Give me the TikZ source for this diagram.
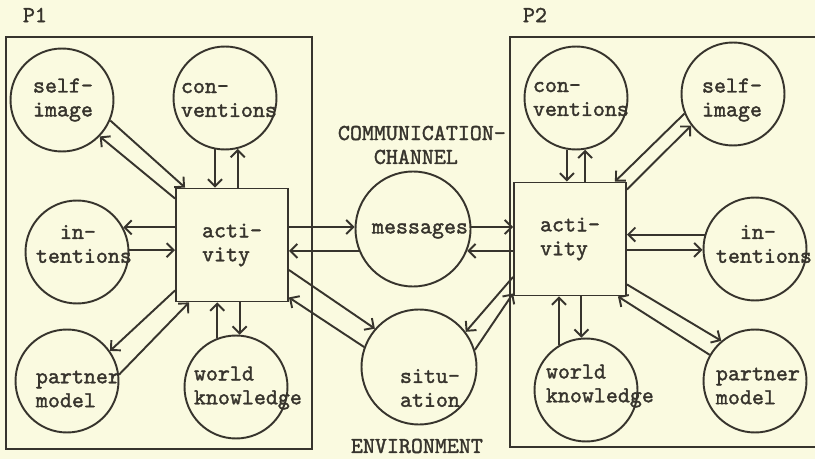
\documentclass[tikz,border=0pt]{standalone}
\usepackage{fontspec}
\usetikzlibrary{arrows.meta}

\definecolor{paper}{RGB}{250,250,224}
\definecolor{ink}{RGB}{55,52,45}
\newfontfamily\twfam{lmmono10-regular.otf}[FakeBold=1.6]
\newcommand\twfont{\twfam\fontsize{13}{13.6}\selectfont}

\tikzset{
  ball/.style={circle, draw, minimum size=2.06cm, inner sep=0pt},
  bigball/.style={ball, minimum size=2.3cm},
  actbox/.style={rectangle, draw, minimum width=2.24cm, minimum height=2.26cm, align=left, font=\twfont},
  lbl/.style={align=left, anchor=west, inner sep=0pt, font=\twfont},
  frame/.style={draw},
}

\begin{document}
\begin{tikzpicture}[x=0.02cm, y=-0.02cm, color=ink, line width=1.1pt,
    >={Straight Barb[length=4pt,width=8pt]}]
  \fill[paper] (0,0) rectangle (815,459);
  \clip (0,0) rectangle (815,459);

  % frames
  \draw[frame] (6,37) rectangle (312,449);
  \draw[frame] (510,37) rectangle (840,447);
  \node[lbl, font=\twfont\bfseries] (p1) at (22,15) {P1};
  \node[lbl, font=\twfont\bfseries] (p2) at (522,15) {P2};

  % person 1
  \node[ball] (si1) at (62,100) {};
  \node[ball] (cv1) at (225,98) {};
  \node[ball] (in1) at (77,252) {};
  \node[ball] (pm1) at (67,381) {};
  \node[ball] (wk1) at (236,387) {};
  \node[actbox] (act1) at (232,245) {acti-\\vity};
  \node[lbl, align=center, anchor=center] (si1t) at (63,100) {self-\\image};
  \node[lbl] (cv1t) at (180,100) {con-\\ventions};
  \node[lbl] (in1t) at (35,244) {\hphantom{te}in-\\tentions};
  \node[lbl] (pm1t) at (35,389) {partner\\model};
  \node[lbl] (wk1t) at (193,388) {world\\knowledge};

  % channel and environment
  \node[bigball] (msg) at (413,229) {};
  \node[bigball] (sit) at (419,367) {};
  \node[lbl, anchor=center] (msgt) at (420,231) {messages};
  \node[lbl] (sitt) at (399,388) {situ-\\ation};
  \node[lbl] (chan) at (337,145) {COMMUNICATION-\\\hphantom{COM}CHANNEL};
  \node[lbl] (env) at (350,446) {ENVIRONMENT};

  % person 2
  \node[ball] (cv2) at (576,98) {};
  \node[ball] (si2) at (733,94) {};
  \node[ball] (in2) at (755,249) {};
  \node[ball] (wk2) at (586,390) {};
  \node[ball] (pm2) at (755,381) {};
  \node[actbox] (act2) at (570,239) {acti-\\vity};
  \node[lbl] (cv2t) at (532,99) {con-\\ventions};
  \node[lbl, align=center, anchor=center] (si2t) at (732,100) {self-\\image};
  \node[lbl] (in2t) at (715,244) {\hphantom{te}in-\\tentions};
  \node[lbl] (wk2t) at (545,386) {world\\knowledge};
  \node[lbl] (pm2t) at (715,386) {partner\\model};

  % arrows person 1
  \draw[->] (si1.-23) -- ([shift={(10,0)}]act1.north west);
  \draw[->] ([shift={(0,11)}]act1.north west) -- (si1.-44);
  \draw[->] (cv1.-101) -- (cv1.-101 |- act1.north);
  \draw[->] (cv1.-76 |- act1.north) -- (cv1.-76);
  \draw[->] (in1.28 -| act1.west) -- (in1.28);
  \draw[->] (in1.2) -- (in1.2 -| act1.west);
  \draw[->] ([shift={(0,-12)}]act1.south west) -- (pm1.35);
  \draw[->] (pm1.7) -- ([shift={(14,0)}]act1.south west);
  \draw[->] (wk1.111) -- (wk1.111 |- act1.south);
  \draw[->] (wk1.86 |- act1.south) -- (wk1.86);

  % arrows channel and environment
  \draw[->] (msg.178 -| act1.east) -- (msg.178);
  \draw[->] (msg.202) -- (msg.202 -| act1.east);
  \draw[->] ([shift={(0,25)}]act1.east) -- (sit.139);
  \draw[->] (sit.160) -- ([shift={(0,-5)}]act1.south east);
  \draw[->] (msg.2) -- (msg.2 -| act2.west);
  \draw[->] (msg.-22 -| act2.west) -- (msg.-22);
  \draw[->] ([shift={(0,38)}]act2.west) -- (sit.37);
  \draw[->] (sit.17) -- ([shift={(0,-3)}]act2.south west);

  % arrows person 2
  \draw[->] (cv2.-100) -- (cv2.-100 |- act2.north);
  \draw[->] (cv2.-80 |- act2.north) -- (cv2.-80);
  \draw[->] (si2.-158) -- ([shift={(-12,0)}]act2.north east);
  \draw[->] ([shift={(0,8)}]act2.north east) -- (si2.-143);
  \draw[->] (in2.164) -- (in2.164 -| act2.east);
  \draw[->] (in2.181 -| act2.east) -- (in2.181);
  \draw[->] ([shift={(0,-12)}]act2.south east) -- (pm2.130);
  \draw[->] (pm2.150) -- ([shift={(-9,0)}]act2.south east);
  \draw[->] (wk2.121) -- (wk2.121 |- act2.south);
  \draw[->] (wk2.95 |- act2.south) -- (wk2.95);
\end{tikzpicture}
\end{document}
